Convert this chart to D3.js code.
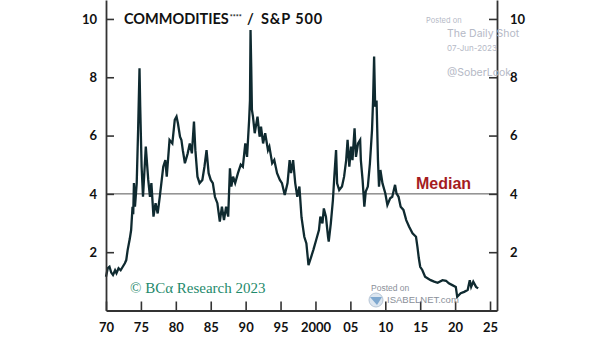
<!DOCTYPE html>
<html>
<head>
<meta charset="utf-8">
<script src="https://cdn.jsdelivr.net/npm/d3@7"></script>
<style>
  body { margin: 0; background: #fff; }
  svg { display: block; }
</style>
</head>
<body>
<div id="chart"></div>
<script>
// Values
const years = [
  1970.0, 1970.25, 1970.5, 1970.75, 1971.0, 1971.3, 1971.5, 1971.8, 1972.1, 1972.4,
  1972.7, 1972.9, 1973.1, 1973.4, 1973.6, 1973.8, 1973.9, 1974.0, 1974.15, 1974.4,
  1974.6, 1974.8, 1974.9, 1975.1, 1975.3, 1975.7, 1976.05, 1976.3, 1976.5, 1976.8,
  1977.1, 1977.4, 1977.7, 1978.2, 1978.5, 1978.7, 1979.1, 1979.5, 1979.85, 1980.1,
  1980.3, 1980.6, 1980.8, 1981.0, 1981.3, 1981.7, 1982.0, 1982.3, 1982.6, 1982.8,
  1983.1, 1983.4, 1983.8, 1984.1, 1984.4, 1984.7, 1985.0, 1985.3, 1985.6, 1985.95,
  1986.3, 1986.6, 1986.9, 1987.2, 1987.5, 1987.75, 1987.95, 1988.2, 1988.5, 1988.9,
  1989.3, 1989.6, 1989.95, 1990.2, 1990.5, 1990.62, 1990.7, 1990.8, 1990.9, 1991.05,
  1991.3, 1991.7, 1992.0, 1992.2, 1992.5, 1992.8, 1993.2, 1993.4, 1993.8, 1994.1,
  1994.5, 1994.9, 1995.2, 1995.6, 1996.0, 1996.3, 1996.5, 1996.8, 1997.1, 1997.4,
  1997.7, 1998.0, 1998.4, 1998.7, 1999.0, 1999.4, 1999.7, 2000.1, 2000.5, 2000.7,
  2001.0, 2001.2, 2001.5, 2001.8, 2001.9, 2002.2, 2002.5, 2002.7, 2002.95, 2003.1,
  2003.4, 2003.8, 2004.1, 2004.4, 2004.6, 2004.85, 2005.1, 2005.3, 2005.6, 2005.8,
  2006.1, 2006.4, 2006.5, 2006.75, 2007.0, 2007.2, 2007.5, 2007.8, 2008.1, 2008.25,
  2008.4, 2008.55, 2008.75, 2008.95, 2009.1, 2009.3, 2009.6, 2010.0, 2010.3, 2010.7,
  2011.0, 2011.4, 2011.6, 2011.9, 2012.2, 2012.6, 2013.0, 2013.4, 2013.9, 2014.4,
  2014.6, 2014.8, 2015.0, 2015.3, 2015.7, 2016.1, 2016.5, 2017.0, 2017.5, 2018.2,
  2018.7, 2019.1, 2019.6, 2020.1, 2020.3, 2020.8, 2021.3, 2021.8, 2022.1, 2022.3,
  2022.6, 2023.0, 2023.3
];
const ratio = [
  1.16, 1.45, 1.50, 1.30, 1.22, 1.38, 1.28, 1.45, 1.38, 1.50,
  1.62, 1.73, 2.07, 2.45, 2.76, 3.56, 3.30, 4.37, 3.56, 4.37,
  6.20, 8.31, 7.00, 4.93, 3.90, 5.62, 4.48, 3.90, 4.37, 3.22,
  3.68, 3.33, 3.90, 4.93, 5.16, 4.59, 5.85, 5.73, 6.54, 6.65,
  6.42, 5.96, 5.85, 5.50, 5.05, 5.39, 5.73, 5.39, 6.48, 5.50,
  4.59, 4.37, 4.48, 4.93, 5.50, 4.71, 4.48, 4.37, 3.90, 3.68,
  3.05, 3.56, 3.10, 3.56, 3.22, 4.88, 4.25, 4.59, 4.37, 4.71,
  5.00, 4.93, 5.73, 5.27, 6.54, 7.20, 9.62, 8.36, 6.88, 6.65,
  6.08, 6.65, 5.96, 6.31, 5.73, 6.08, 5.50, 5.62, 5.05, 5.16,
  4.71, 4.48, 4.37, 3.96, 4.37, 5.16, 4.71, 5.16, 4.37, 3.90,
  4.25, 3.20, 2.53, 2.30, 1.56, 1.85, 2.08, 2.42, 2.76, 3.22,
  2.99, 3.50, 3.22, 2.53, 2.36, 2.99, 3.79, 4.59, 5.50, 4.36,
  4.13, 4.25, 4.59, 5.16, 5.85, 4.93, 5.62, 5.16, 6.25, 5.27,
  5.73, 5.85, 5.16, 4.48, 3.56, 4.08, 4.25, 5.05, 6.19, 7.20,
  8.71, 6.99, 7.20, 5.16, 4.25, 4.82, 4.36, 4.02, 3.62, 3.85,
  3.90, 4.31, 4.02, 3.90, 3.56, 3.45, 3.10, 2.88, 2.65, 2.53,
  2.19, 1.80, 1.50, 1.39, 1.16, 1.10, 1.04, 0.99, 0.95, 1.04,
  1.02, 0.93, 0.87, 0.81, 0.47, 0.59, 0.64, 0.70, 1.04, 0.81,
  0.99, 0.81, 0.76
];
const medianValue = 4;
const yTicks = [2, 4, 6, 8, 10];
const xTickYears = [1970, 1975, 1980, 1985, 1990, 1995, 2000, 2005, 2010, 2015, 2020, 2025];
const xTickLabels = ['70', '75', '80', '85', '90', '95', '2000', '05', '10', '15', '20', '25'];

const width = 605;
const height = 341;
const plot = { left: 106, right: 497, top: 0, bottom: 310.5 };
const AXIS_FONT = 'Lato, "Open Sans", sans-serif';
const LINE_COLOR = '#0f2a30';

const svg = d3.select('#chart')
  .append('svg')
  .attr('width', width)
  .attr('height', height);

const x = d3.scaleLinear().domain([1970, 2026]).range([plot.left, plot.right]);
const y = d3.scaleLinear().domain([0, 10.65]).range([plot.bottom, plot.top]);

const series = years.map((yr, i) => ({ year: yr, value: ratio[i] }));

// median reference line
svg.append('line')
  .attr('x1', plot.left)
  .attr('x2', plot.right)
  .attr('y1', y(medianValue))
  .attr('y2', y(medianValue))
  .attr('stroke', '#555')
  .attr('stroke-width', 1);

// the ratio line
svg.append('path')
  .datum(series)
  .attr('fill', 'none')
  .attr('stroke', LINE_COLOR)
  .attr('stroke-width', 2.3)
  .attr('stroke-linejoin', 'miter')
  .attr('d', d3.line().x((d) => x(d.year)).y((d) => y(d.value)));

// axes: ticks point inward
function styleAxis (g) {
  g.select('.domain').attr('stroke', '#333').attr('stroke-width', 1.8);
  g.selectAll('.tick line').attr('stroke', '#333').attr('stroke-width', 1.6);
  g.selectAll('.tick text')
    .style('font-family', AXIS_FONT)
    .style('font-weight', 700)
    .style('font-size', '13px')
    .attr('fill', '#111');
}

svg.append('g')
  .attr('transform', `translate(${plot.left},0)`)
  .call(d3.axisLeft(y).tickValues(yTicks).tickSize(-8).tickSizeOuter(0).tickPadding(9))
  .call(styleAxis);

svg.append('g')
  .attr('transform', `translate(${plot.right},0)`)
  .call(d3.axisRight(y).tickValues(yTicks).tickSize(-8).tickSizeOuter(0).tickPadding(13))
  .call(styleAxis);

svg.append('g')
  .attr('transform', `translate(0,${plot.bottom})`)
  .call(
    d3.axisBottom(x)
      .tickValues(xTickYears)
      .tickFormat((d, i) => xTickLabels[i])
      .tickSize(-9)
      .tickSizeOuter(0)
      .tickPadding(12)
  )
  .call(styleAxis);

// title
const title = svg.append('text')
  .attr('y', 24)
  .style('font-family', AXIS_FONT)
  .style('font-weight', 700)
  .style('font-size', '14.5px')
  .attr('fill', '#111');
title.append('tspan').attr('x', 124).text('COMMODITIES');
title.append('tspan').attr('dx', 1).attr('dy', -4).style('font-size', '7px').text('****');
title.append('tspan').attr('x', 247).attr('dy', 4).text('/');
title.append('tspan').attr('x', 261).style('letter-spacing', '0.9px').text('S&P 500');

// median label
svg.append('text')
  .attr('x', 416)
  .attr('y', y(medianValue) - 5)
  .style('font-family', '"Liberation Sans", Arial, sans-serif')
  .style('font-weight', 700)
  .style('font-size', '16px')
  .attr('fill', '#a51c1f')
  .text('Median');

// source
svg.append('text')
  .attr('x', 130)
  .attr('y', 293)
  .style('font-family', '"Liberation Serif", "Times New Roman", serif')
  .style('font-size', '15px')
  .attr('fill', '#1f8a6c')
  .text('© BCα Research 2023');

// watermarks
const wm = svg.append('g')
  .style('font-family', 'Inter, "Noto Sans", sans-serif')
  .attr('fill', '#b5b9c6');
wm.append('text').attr('x', 426).attr('y', 23).style('font-size', '7.5px').text('Posted on');
wm.append('text').attr('x', 447).attr('y', 37).style('font-size', '10.5px').text('The Daily Shot');
wm.append('text').attr('x', 447).attr('y', 51).style('font-size', '8px').text('07-Jun-2023');
wm.append('text').attr('x', 447).attr('y', 76).style('font-size', '10.5px').text('@SoberLook');

const isa = svg.append('g')
  .style('font-family', '"Liberation Sans", Arial, sans-serif')
  .attr('fill', '#8a8f99');
isa.append('text').attr('x', 371).attr('y', 291).style('font-size', '8.5px').text('Posted on');
isa.append('circle').attr('cx', 376).attr('cy', 300).attr('r', 7)
  .attr('fill', '#dce6f0').attr('stroke', '#b7c6d6').attr('stroke-width', 1);
isa.append('path').attr('d', 'M370,297 L382,297 L377,305 Z').attr('fill', '#7fa8cf');
isa.append('text').attr('x', 387).attr('y', 303).style('font-size', '9.5px').text('ISABELNET.com');
</script>
</body>
</html>
